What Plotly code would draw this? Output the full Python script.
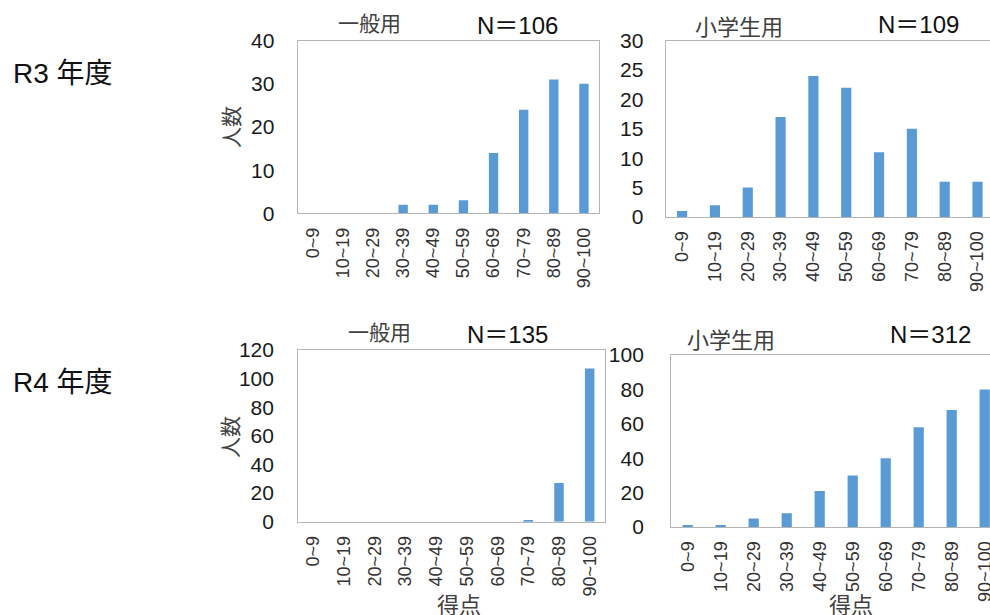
import plotly.graph_objects as go

W, H = 990, 615

# Score bands shared by every histogram
score_bands = ["0~9", "10~19", "20~29", "30~39", "40~49",
               "50~59", "60~69", "70~79", "80~89", "90~100"]

# Head counts per score band
r3_general = [0, 0, 0, 2, 2, 3, 14, 24, 31, 30]
r3_elementary = [1, 2, 5, 17, 24, 22, 11, 15, 6, 6]
r4_general = [0, 0, 0, 0, 0, 0, 0, 1, 27, 107]
r4_elementary = [1, 1, 5, 8, 21, 30, 40, 58, 68, 80]

# y-axis ranges and tick steps
y_max = [40, 30, 120, 100]
y_step = [10, 5, 20, 20]

panel_titles = ["一般用", "小学生用", "一般用", "小学生用"]
panel_counts = ["N＝106", "N＝109", "N＝135", "N＝312"]
year_labels = ["R3 年度", "R4 年度"]

BAR = "#5B9BD5"
LINE = "#B4B4B4"
TXT = "#333333"
FONT = "Liberation Sans, Noto Sans CJK JP, sans-serif"
CJK = "Noto Sans CJK JP, sans-serif"


def fx(p):
    return p / W


def fy(p):
    return 1 - p / H


# plot-area boxes in pixels: left, right, top, bottom, x-range end
boxes = [
    (297.7, 599.0, 40.7, 213.3, 9.5),
    (665.7, 990.0, 40.7, 217.0, 9.38),
    (298.3, 605.0, 350.0, 521.7, 9.5),
    (671.2, 990.0, 355.0, 527.0, 9.16),
]
label_gap = [18, 17, 19, 22]

series = [r3_general, r3_elementary, r4_general, r4_elementary]

fig = go.Figure()
layout = dict(
    width=W, height=H,
    margin=dict(l=0, r=0, t=0, b=0, autoexpand=False),
    paper_bgcolor="white", plot_bgcolor="white",
    showlegend=False,
    font=dict(family=FONT, color=TXT),
)

for i, vals in enumerate(series):
    n = i + 1
    xa = "x" if n == 1 else f"x{n}"
    ya = "y" if n == 1 else f"y{n}"
    fig.add_trace(go.Bar(x=score_bands, y=vals, marker_color=BAR,
                         marker_line_width=0, width=0.31,
                         xaxis=xa, yaxis=ya))
    l, r, t, b, xend = boxes[i]
    clipped = r >= W
    layout[f"xaxis{'' if n == 1 else n}"] = dict(
        domain=[fx(l), fx(r)], anchor=ya, type="category",
        range=[-0.5, xend], showline=True, linecolor=LINE, linewidth=1.3,
        mirror=True, showgrid=False, zeroline=False, ticks="",
        tickangle=-90, tickfont=dict(size=18, family=FONT, color=TXT),
        ticklabelstandoff=6, automargin=False, fixedrange=True,
    )
    layout[f"yaxis{'' if n == 1 else n}"] = dict(
        domain=[fy(b), fy(t)], anchor=xa, range=[0, y_max[i]],
        dtick=y_step[i], tick0=0, showline=True, linecolor=LINE,
        linewidth=1.3, mirror=not clipped, showgrid=False, zeroline=False,
        ticks="", tickfont=dict(size=21, family=FONT, color="#1a1a1a"),
        ticklabelstandoff=label_gap[i], automargin=False, fixedrange=True,
    )

fig.update_layout(**layout)

ann = []


def text(s, x, y, size, color, family=FONT, angle=0, xanchor="center"):
    ann.append(dict(text=s, x=fx(x), y=fy(y), xref="paper", yref="paper",
                    xanchor=xanchor, yanchor="middle", showarrow=False,
                    textangle=angle,
                    font=dict(size=size, color=color, family=family)))


title_pos = [(369, 22), (739, 25), (379, 331), (731, 338)]
title_size = [21, 22, 21, 22]
count_pos = [(517.7, 25), (918.5, 24), (507.5, 334), (930, 334)]
for i in range(4):
    text(panel_titles[i], *title_pos[i], title_size[i], "#404040", CJK)
    text(panel_counts[i], *count_pos[i], 24, "#111111")

text("人数", 230, 127, 21, "#404040", CJK, angle=-90)
text("人数", 229, 437, 21, "#404040", CJK, angle=-90)
text("得点", 459, 603, 22, "#404040", CJK)
text("得点", 851, 603, 22, "#404040", CJK)

text(year_labels[0], 11, 73.5, 28, "#111111", xanchor="left")
text(year_labels[1], 11, 382, 28, "#111111", xanchor="left")

fig.update_layout(annotations=ann)
fig.write_html("out.html")
